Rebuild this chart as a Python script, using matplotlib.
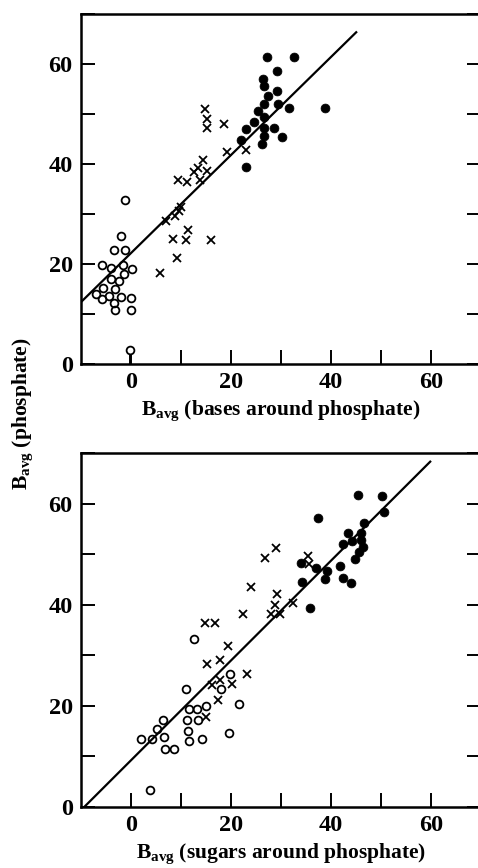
import matplotlib
matplotlib.use("Agg")
import matplotlib.pyplot as plt

plt.rcParams['font.family'] = ['Liberation Serif', 'DejaVu Serif']
plt.rcParams['font.weight'] = 'bold'
plt.rcParams['mathtext.fontset'] = 'custom'
plt.rcParams['mathtext.rm'] = 'Liberation Serif:bold'
plt.rcParams['mathtext.bf'] = 'Liberation Serif:bold'
plt.rcParams['mathtext.it'] = 'Liberation Serif:bold'

# ---------------- top panel: bases around phosphate ----------------
top_open_x = [-1.3, -2.1, -3.5, -1.3, -5.9, -4.0, -1.6, 0.2, -1.5, -4.1, -2.4,
              -5.7, -3.3, -7.0, -4.5, -5.8, -2.1, -0.1, -3.5, -3.2, 0.0]
top_open_y = [32.8, 25.5, 22.8, 22.8, 19.7, 19.2, 19.7, 19.0, 17.9, 17.0, 16.5,
              15.2, 15.0, 14.0, 13.5, 13.0, 13.4, 13.1, 12.2, 10.8, 10.7]
top_stem_x = [-0.2]
top_stem_y = [2.7]

top_cross_x = [14.8, 15.1, 15.1, 18.5, 19.1, 23.0, 14.4, 13.3, 12.6, 15.2, 13.7, 9.4,
               11.2, 10.0, 9.5, 8.7, 6.9, 8.3, 11.0, 11.3, 15.9, 9.2, 5.8]
top_cross_y = [51.0, 48.9, 47.1, 48.0, 42.3, 42.7, 40.7, 39.1, 38.3, 38.5, 36.8, 36.8,
               36.3, 31.3, 30.5, 29.5, 28.5, 24.9, 24.8, 26.7, 24.8, 21.2, 18.2]

top_fill_x = [27.1, 32.5, 29.2, 26.3, 26.5, 29.1, 27.4, 26.5, 29.3, 31.5, 38.8,
              25.4, 26.5, 24.5, 26.5, 22.9, 28.5, 22.0, 26.6, 30.1, 26.1, 22.9]
top_fill_y = [61.3, 61.3, 58.5, 57.0, 55.5, 54.5, 53.5, 51.9, 51.9, 51.2, 51.2,
              50.5, 49.3, 48.3, 47.2, 47.0, 47.2, 44.8, 45.5, 45.3, 44.0, 39.3]

top_fit_x = [-10.0, 45.2]
top_fit_y = [12.3, 66.5]

# ---------------- bottom panel: sugars around phosphate ----------------
bot_open_x = [12.5, 11.0, 19.7, 18.0, 11.5, 13.1, 14.9, 21.6, 11.1, 13.3, 6.4,
              5.1, 11.4, 19.6, 2.0, 4.1, 6.5, 11.6, 14.2, 6.8, 8.5, 3.8]
bot_open_y = [33.3, 23.3, 26.2, 23.3, 19.4, 19.4, 20.0, 20.3, 17.1, 17.1, 17.1,
              15.3, 15.0, 14.5, 13.4, 13.4, 13.8, 13.1, 13.4, 11.4, 11.4, 3.4]

bot_cross_x = [29.0, 26.8, 35.4, 35.6, 23.9, 29.1, 28.8, 32.3, 27.9, 29.8, 22.4,
               14.7, 16.7, 19.4, 17.7, 15.1, 23.2, 17.8, 16.1, 20.1, 17.4, 14.9]
bot_cross_y = [51.2, 49.2, 49.6, 48.1, 43.5, 42.2, 40.0, 40.3, 38.2, 38.2, 38.2,
               36.4, 36.4, 31.8, 29.1, 28.3, 26.3, 25.1, 24.2, 24.3, 21.2, 17.7]

bot_fill_x = [45.3, 50.2, 37.3, 50.6, 46.6, 43.3, 46.0, 42.3, 44.1, 46.0, 46.3,
              45.5, 44.7, 33.9, 37.0, 39.2, 41.7, 38.7, 34.1, 42.3, 43.9, 35.7]
bot_fill_y = [61.8, 61.5, 57.2, 58.3, 56.2, 54.3, 54.3, 52.1, 52.6, 52.9, 51.4,
              50.4, 49.1, 48.2, 47.2, 46.7, 47.6, 45.2, 44.5, 45.3, 44.3, 39.4]

bot_fit_x = [-9.3, 60.0]
bot_fit_y = [0.0, 68.5]

x_ticks = [0, 10, 20, 30, 40, 50, 60, 70]
x_labels = ['0', '', '20', '', '40', '', '60', '']
y_ticks = [0, 10, 20, 30, 40, 50, 60, 70]
y_labels = ['0', '', '20', '', '40', '', '60', '']

xlabels = [r"B$_{\mathrm{avg}}$ (bases around phosphate)",
           r"B$_{\mathrm{avg}}$ (sugars around phosphate)"]
ylabel = r"B$_{\mathrm{avg}}$ (phosphate)"

W, H = 478, 868
fig = plt.figure(figsize=(W / 100, H / 100), dpi=100)

ax_top = fig.add_axes([81 / W, 1 - 363.5 / H, 400 / W, 349.5 / H])
ax_bot = fig.add_axes([81 / W, 1 - 806.7 / H, 400 / W, 353.4 / H])

panels = [
    (ax_top, top_open_x, top_open_y, top_cross_x, top_cross_y, top_fill_x, top_fill_y,
     top_fit_x, top_fit_y, xlabels[0]),
    (ax_bot, bot_open_x, bot_open_y, bot_cross_x, bot_cross_y, bot_fill_x, bot_fill_y,
     bot_fit_x, bot_fit_y, xlabels[1]),
]

for ax, ox, oy, cx, cy, fx, fy, lx, ly, xl in panels:
    ax.plot(lx, ly, color='black', lw=1.6, zorder=2, solid_capstyle='butt')
    ax.plot(ox, oy, linestyle='none', marker='o', ms=5.6, mfc='none', mec='black',
            mew=1.3, zorder=3)
    ax.plot(cx, cy, linestyle='none', marker='x', ms=6.0, mec='black', mew=1.3, zorder=3)
    ax.plot(fx, fy, linestyle='none', marker='o', ms=6.4, mfc='black', mec='black',
            mew=0.5, zorder=3)
    ax.set_xlim(-10, 70)
    ax.set_ylim(0, 70)
    ax.set_xticks(x_ticks)
    ax.set_xticklabels(x_labels)
    ax.set_yticks(y_ticks)
    ax.set_yticklabels(y_labels)
    ax.tick_params(direction='in', length=10, width=1.4, labelsize=17.5, right=True,
                   top=False, pad=6)
    for s in ax.spines.values():
        s.set_linewidth(1.8)
    ax.set_xlabel(xl, fontsize=15.5, fontweight='bold', labelpad=4)

# stem point in top panel
ax_top.vlines(top_stem_x, 0, top_stem_y, color='black', lw=1.4, zorder=2)
ax_top.plot(top_stem_x, top_stem_y, linestyle='none', marker='o', ms=5.6, mfc='white',
            mec='black', mew=1.3, zorder=4)

fig.text(23 / W, 1 - 414 / H, ylabel, rotation=90, ha='center', va='center',
         fontsize=15.5, fontweight='bold')

fig.savefig('out.png', dpi=100)
